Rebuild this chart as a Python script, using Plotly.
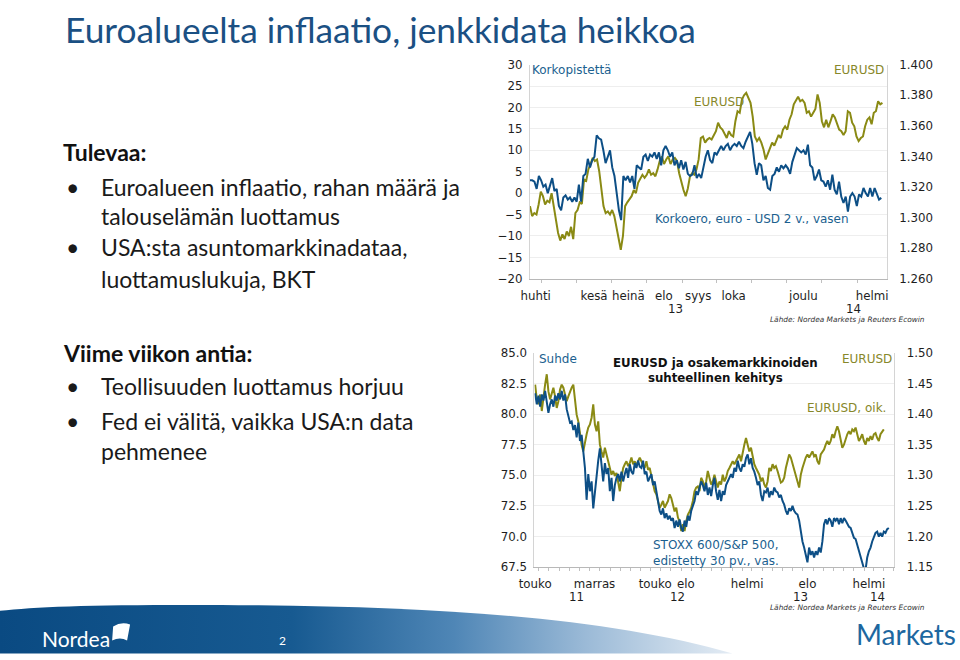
import base64
import pandas as pd
import plotly.graph_objects as go

W, H = 960, 660

# The photographed page maps layout pixels slightly (about 1.5-2 %) onto the picture;
# these helpers place layout items so they land where the reference shows them.
SX, OX = 0.985, 16.6
SY, OY = 0.979, 7.4


def X(x):
    return (x - OX) / SX


def Y(y):
    return (y - OY) / SY


def px(x):
    return X(x) / W


def py(y):
    return 1 - Y(y) / H


# ---------------- DATA ----------------
# Chart 1: 2-year rate spread (euro - USD, bp, left) and EURUSD (right)
c1_spread = [3.0, 3.0, 2.7, 1.0, 4.0, 3.0, 1.5, 2.0, 0.0, 2.0, 3.5, 0.5, 1.0, -3.0, -4.0, -1.0,
             -0.5, -1.5, -1.0, -2.0, -1.0, -2.0, 2.0, -2.0, 4.0, 4.5, 8.0, 6.0, 7.7, 8.5, 13.5,
             12.8, 12.5, 10.0, 7.0, 8.5, 10.0, 6.0, 4.0, 0.0, -4.0, -6.3, 4.0, 3.0, 4.0, 2.5, 4.0,
             1.0, 6.5, 6.0, 5.5, 8.5, 9.0, 7.5, 9.0, 8.5, 9.5, 8.0, 9.5, 6.5, 10.0, 11.0, 10.0,
             8.5, 9.5, 6.5, 7.7, 5.8, 7.7, 5.5, 7.3, 4.5, 4.0, 4.3, 6.5, 3.5, 4.5, 3.5, 5.8, 8.5,
             10.0, 7.7, 7.0, 9.5, 9.0, 10.0, 11.0, 10.0, 11.0, 11.5, 10.0, 11.0, 11.5, 11.0, 12.0,
             11.0, 10.5, 12.0, 13.0, 14.3, 11.5, 7.0, 4.3, 7.0, 6.5, 3.0, 4.0, 1.2, 0.8, 4.0, 4.5,
             6.0, 5.0, 6.5, 5.8, 6.5, 5.8, 4.5, 7.3, 9.0, 10.5, 10.0, 9.5, 10.0, 9.0, 11.3, 6.5,
             6.0, 3.0, 4.0, 5.5, 3.0, 2.7, 1.5, 3.0, 0.8, 4.3, 0.8, -0.3, 2.7, -0.8, -2.3, -0.8,
             -4.3, -0.8, 0.0, -0.8, -3.0, -0.3, -0.8, 1.2, 0.0, -0.8, 1.2, -0.8, 1.2, 0.0, -1.5,
             -1.1]
c1_eurusd = [1.3075, 1.301, 1.303, 1.302, 1.3086, 1.317, 1.314, 1.3086, 1.311, 1.310, 1.316,
             1.3075, 1.299, 1.290, 1.285, 1.289, 1.286, 1.291, 1.288, 1.294, 1.286, 1.303, 1.305,
             1.310, 1.309, 1.325, 1.324, 1.3315, 1.335, 1.339, 1.337, 1.338, 1.3305, 1.318,
             1.3075, 1.303, 1.304, 1.302, 1.305, 1.301, 1.293, 1.286, 1.279, 1.288, 1.3075, 1.310,
             1.312, 1.314, 1.318, 1.316, 1.3228, 1.326, 1.328, 1.326, 1.328, 1.3315, 1.328, 1.329,
             1.327, 1.3315, 1.337, 1.340, 1.335, 1.338, 1.340, 1.335, 1.338, 1.339, 1.337, 1.329,
             1.3228, 1.318, 1.314, 1.319, 1.327, 1.329, 1.328, 1.3315, 1.338, 1.352, 1.353, 1.349,
             1.351, 1.352, 1.351, 1.354, 1.3565, 1.362, 1.359, 1.3575, 1.355, 1.352, 1.3565, 1.354,
             1.353, 1.363, 1.3695, 1.3685, 1.377, 1.380, 1.3815, 1.378, 1.375, 1.366, 1.353, 1.350,
             1.352, 1.349, 1.3445, 1.338, 1.3415, 1.3445, 1.349, 1.347, 1.351, 1.354, 1.352,
             1.3575, 1.3597, 1.3575, 1.364, 1.3675, 1.374, 1.377, 1.379, 1.376, 1.377, 1.375,
             1.3685, 1.3695, 1.366, 1.3685, 1.371, 1.3805, 1.375, 1.363, 1.359, 1.364, 1.359,
             1.363, 1.3675, 1.3655, 1.361, 1.3575, 1.3565, 1.354, 1.3565, 1.3695, 1.3685, 1.362,
             1.3597, 1.353, 1.350, 1.352, 1.353, 1.3597, 1.364, 1.3655, 1.361, 1.3685, 1.3695,
             1.376, 1.374, 1.375]
c1_spread_dates = pd.date_range("2013-04-21", "2014-02-22", periods=len(c1_spread))
c1_eur_dates = pd.date_range("2013-04-21", "2014-02-23", periods=len(c1_eurusd))
c1_tickvals = ["2013-04-26", "2013-06-16", "2013-07-16", "2013-08-16", "2013-09-15",
               "2013-10-16", "2013-12-16", "2014-02-14"]
c1_ticktext = ["huhti", "kesä", "heinä", "elo", "syys", "loka", "joulu", "helmi"]
c1_years = [("2013-08-26", "13"), ("2014-01-29", "14")]

# Chart 2: STOXX 600 / S&P 500 ratio (advanced 30 days, left) and EURUSD (right)
c2_ratio = [81.7, 80.8, 81.5, 80.6, 81.6, 81.1, 81.9, 80.9, 80.1, 80.8, 81.2, 80.6, 81.5, 81.1,
            81.7, 81.2, 81.9, 81.1, 81.6, 80.4, 79.7, 79.3, 79.4, 78.7, 79.1, 78.1, 79.3, 77.8,
            78.3, 77.0, 75.6, 73.0, 75.1, 73.7, 74.5, 72.3, 73.7, 75.1, 76.2, 77.2, 75.6, 74.5,
            76.0, 75.1, 75.6, 73.7, 74.8, 72.9, 74.2, 74.8, 75.1, 74.5, 75.3, 74.5, 75.1, 75.6,
            74.8, 75.9, 75.3, 75.1, 76.0, 75.6, 76.2, 75.7, 75.6, 76.2, 75.1, 75.3, 74.5, 74.8,
            75.1, 74.2, 74.5, 73.7, 72.9, 72.1, 71.8, 72.3, 71.5, 71.9, 71.4, 71.7, 71.3, 71.5,
            70.7, 71.3, 70.8, 71.4, 70.7, 70.4, 71.3, 70.8, 71.7, 71.3, 72.1, 72.6, 72.9, 73.7,
            73.4, 74.0, 74.5, 74.2, 73.7, 74.4, 73.4, 74.0, 73.3, 74.2, 74.8, 73.7, 73.0, 73.8,
            72.9, 73.7, 73.4, 74.2, 74.5, 74.8, 75.1, 74.8, 75.6, 75.3, 76.2, 75.6, 75.3, 75.9,
            75.7, 76.4, 76.7, 75.9, 76.4, 75.6, 75.3, 74.8, 74.2, 74.5, 73.4, 72.9, 73.7, 73.6,
            74.0, 73.2, 73.7, 73.4, 74.0, 73.7, 73.6, 73.2, 73.4, 72.9, 72.6, 72.1, 71.8, 72.3,
            72.1, 72.5, 72.1, 71.9, 71.8, 71.3, 70.4, 69.6, 69.1, 68.5, 67.9, 69.1, 68.5, 68.8,
            68.3, 68.8, 68.5, 69.1, 68.7, 69.6, 71.0, 71.4, 71.0, 71.5, 71.3, 70.8, 71.5, 71.3,
            71.5, 71.0, 71.5, 71.1, 71.5, 71.3, 71.0, 70.8, 70.7, 70.3, 69.9, 69.8, 69.3, 68.8,
            68.3, 67.9, 67.4, 67.3, 68.3, 68.8, 69.1, 69.6, 70.0, 70.3, 70.4, 70.0, 70.3, 70.0,
            70.4, 70.3, 70.6, 70.7]
c2_eurusd = [1.448, 1.424, 1.416, 1.432, 1.405, 1.432, 1.448, 1.465, 1.437, 1.424, 1.432, 1.443,
             1.429, 1.410, 1.421, 1.440, 1.448, 1.443, 1.432, 1.421, 1.429, 1.437, 1.443, 1.448,
             1.421, 1.399, 1.388, 1.367, 1.350, 1.339, 1.356, 1.367, 1.378, 1.383, 1.394, 1.416,
             1.383, 1.372, 1.388, 1.350, 1.339, 1.329, 1.345, 1.334, 1.323, 1.307, 1.301, 1.307,
             1.299, 1.304, 1.290, 1.274, 1.296, 1.312, 1.318, 1.323, 1.315, 1.320, 1.329, 1.318,
             1.323, 1.315, 1.323, 1.329, 1.323, 1.318, 1.312, 1.323, 1.309, 1.312, 1.301, 1.285,
             1.274, 1.269, 1.258, 1.247, 1.252, 1.258, 1.247, 1.252, 1.258, 1.269, 1.263, 1.252,
             1.241, 1.247, 1.231, 1.225, 1.209, 1.220, 1.209, 1.225, 1.236, 1.241, 1.247, 1.258,
             1.274, 1.280, 1.282, 1.274, 1.296, 1.290, 1.280, 1.290, 1.307, 1.296, 1.285, 1.290,
             1.301, 1.290, 1.280, 1.290, 1.285, 1.301, 1.290, 1.296, 1.307, 1.312, 1.318, 1.323,
             1.318, 1.323, 1.329, 1.334, 1.323, 1.339, 1.350, 1.361, 1.350, 1.339, 1.345, 1.329,
             1.318, 1.312, 1.307, 1.301, 1.290, 1.296, 1.285, 1.280, 1.290, 1.312, 1.307, 1.318,
             1.312, 1.315, 1.307, 1.296, 1.288, 1.290, 1.296, 1.312, 1.323, 1.334, 1.329, 1.318,
             1.312, 1.301, 1.290, 1.280, 1.301, 1.312, 1.323, 1.329, 1.334, 1.329, 1.334, 1.339,
             1.331, 1.334, 1.323, 1.318, 1.334, 1.339, 1.342, 1.350, 1.356, 1.350, 1.356, 1.367,
             1.361, 1.372, 1.380, 1.372, 1.356, 1.345, 1.350, 1.361, 1.367, 1.372, 1.367, 1.375,
             1.372, 1.378, 1.367, 1.356, 1.361, 1.367, 1.356, 1.350, 1.361, 1.356, 1.364, 1.358,
             1.367, 1.369, 1.361, 1.356, 1.367, 1.372, 1.375]
c2_ratio_dates = pd.date_range("2011-05-21", "2014-04-16", periods=len(c2_ratio))
c2_eur_dates = pd.date_range("2011-05-21", "2014-04-01", periods=len(c2_eurusd))
c2_tickvals = ["2011-05-21", "2011-11-15", "2012-05-15", "2012-08-15", "2013-02-15",
               "2013-08-15", "2014-02-15"]
c2_ticktext = ["touko", "marras", "touko", "elo", "helmi", "elo", "helmi"]
c2_years = [("2011-09-22", "11"), ("2012-07-22", "12"), ("2013-07-26", "13"), ("2014-03-12", "14")]

# ---------------- STYLE ----------------
BLUE = "#0d4f86"
OLIVE = "#8a8a14"
BLUE_T = "#1b5f8f"
OLIVE_T = "#87872a"
TITLE_C = "#1b5083"
CF = "DejaVu Sans"
SF = "Lato"
TF = dict(family=CF, size=11.8, color="#1e1e1e")

fig = go.Figure()
# EURUSD on base (right) axes, spread/ratio on overlay (left) axes so blue is drawn on top
fig.add_trace(go.Scatter(x=c1_eur_dates, y=c1_eurusd, mode="lines", line=dict(color=OLIVE, width=2),
                         xaxis="x", yaxis="y", hoverinfo="skip", showlegend=False))
fig.add_trace(go.Scatter(x=c1_spread_dates, y=c1_spread, mode="lines", line=dict(color=BLUE, width=2),
                         xaxis="x", yaxis="y2", hoverinfo="skip", showlegend=False))
fig.add_trace(go.Scatter(x=c2_eur_dates, y=c2_eurusd, mode="lines", line=dict(color=OLIVE, width=2),
                         xaxis="x2", yaxis="y3", hoverinfo="skip", showlegend=False))
fig.add_trace(go.Scatter(x=c2_ratio_dates, y=c2_ratio, mode="lines", line=dict(color=BLUE, width=2),
                         xaxis="x2", yaxis="y4", hoverinfo="skip", showlegend=False))


def xax(dom, rng, tv, tt, tick0, anchor):
    return dict(domain=dom, range=rng, type="date", tickmode="array", tickvals=tv, ticktext=tt,
                ticks="", showline=True, linecolor="#b8b8b8", linewidth=1, showgrid=False,
                zeroline=False, tickfont=TF, ticklabelstandoff=6, anchor=anchor,
                minor=dict(ticks="outside", dtick="M1", tick0=tick0, ticklen=3,
                           tickcolor="#c0c0c0", showgrid=False))


def yax(dom, rng, dt, fmt, side, anchor, grid, overlay=None, standoff=4):
    d = dict(range=rng, dtick=dt, tick0=rng[0], tickformat=fmt, side=side, anchor=anchor,
             showgrid=grid, gridcolor="#eeeeee", showline=True, linecolor="#d4d4d4",
             zeroline=False, ticks="", tickfont=TF, ticklabelstandoff=standoff)
    if overlay:
        d["overlaying"] = overlay
    else:
        d["domain"] = dom
    return d


c1x = [px(532), px(890)]
c1y = [py(279.3), py(65)]
c2x = [px(536.5), px(897.5)]
c2y = [py(567.7), py(353.3)]

annotations = []


def text(x, y, s, size, color, family=SF, xanchor="left", bold=False):
    annotations.append(dict(x=px(x), y=py(y), xref="paper", yref="paper", text=s, showarrow=False,
                            xanchor=xanchor, yanchor="middle",
                            align=xanchor if xanchor != "center" else "center", borderpad=0,
                            font=dict(family=family, size=size, color=color,
                                      weight="bold" if bold else "normal")))


# Year labels under the month axes
for d, s in c1_years:
    annotations.append(dict(x=d, y=0, xref="x", yref="y domain", text=s, showarrow=False,
                            yshift=-30, yanchor="middle", font=TF))
for d, s in c2_years:
    annotations.append(dict(x=d, y=0, xref="x2", yref="y3 domain", text=s, showarrow=False,
                            yshift=-30, yanchor="middle", font=TF))

CS = 12
# Chart 1 labels
text(533, 70, "Korkopistettä", CS, BLUE_T, CF)
text(888, 70, "EURUSD", CS, OLIVE_T, CF, xanchor="right")
text(695, 102, "EURUSD", CS, OLIVE_T, CF)
text(656, 219, "Korkoero, euro - USD 2 v., vasen", CS, BLUE_T, CF)
text(929, 320, "<i>Lähde: Nordea Markets ja Reuters Ecowin</i>", 7.4, "#333333", CF, xanchor="right")

# Chart 2 labels
text(540, 359, "Suhde", CS, BLUE_T, CF)
text(896, 359, "EURUSD", CS, OLIVE_T, CF, xanchor="right")
annotations.append(dict(x=px(718), y=py(371), xref="paper", yref="paper",
                        text="EURUSD ja osakemarkkinoiden<br>suhteellinen kehitys", showarrow=False,
                        xanchor="center", yanchor="middle", align="center",
                        font=dict(family=CF, size=11.8, color="#111111", weight="bold")))
text(890, 408, "EURUSD, oik.", CS, OLIVE_T, CF, xanchor="right")
annotations.append(dict(x=px(654), y=py(553.5), xref="paper", yref="paper",
                        text="STOXX 600/S&P 500,<br>edistetty 30 pv., vas.", showarrow=False,
                        xanchor="left", yanchor="middle", align="left", borderpad=0,
                        font=dict(family=CF, size=CS, color=BLUE_T)))
text(929, 608, "<i>Lähde: Nordea Markets ja Reuters Ecowin</i>", 7.4, "#333333", CF, xanchor="right")

# Slide title: box top kept on the page edge so the text is not cut off
annotations.append(dict(x=px(65), y=1, xref="paper", yref="paper",
                        text="Euroalueelta inflaatio, jenkkidata heikkoa", showarrow=False,
                        xanchor="left", yanchor="top", align="left", borderpad=0,
                        font=dict(family=SF, size=35.3, color=TITLE_C)))
body = "#1a1a1a"
BS = 23
text(63, 152, "Tulevaa:", BS, "#111111", SF, bold=True)
text(66, 187, "•", BS, body, SF)
text(101, 187, "Euroalueen inflaatio, rahan määrä ja", BS, body, SF)
text(101, 216, "talouselämän luottamus", BS, body, SF)
text(66, 247, "•", BS, body, SF)
text(101, 247, "USA:sta asuntomarkkinadataa,", BS, body, SF)
text(101, 279, "luottamuslukuja, BKT", BS, body, SF)
text(63, 353, "Viime viikon antia:", BS, "#111111", SF, bold=True)
text(66, 386, "•", BS, body, SF)
text(101, 386, "Teollisuuden luottamus horjuu", BS, body, SF)
text(66, 421, "•", BS, body, SF)
text(101, 421, "Fed ei välitä, vaikka USA:n data", BS, body, SF)
text(101, 451, "pehmenee", BS, body, SF)

# Footer
text(42, 639.5, "Nordea", 21, "#ffffff", SF)
text(279, 641, "2", 12, "#ffffff", SF)
text(858, 634.5, "Markets", 28, "#1d67a0", SF)

svg = ('<svg xmlns="http://www.w3.org/2000/svg" width="960" height="60" viewBox="0 0 960 60" '
       'preserveAspectRatio="none">'
       '<defs><linearGradient id="g" x1="0" y1="0" x2="735" y2="0" gradientUnits="userSpaceOnUse">'
       '<stop offset="0" stop-color="#0a4a82"/><stop offset="0.4" stop-color="#175a91"/>'
       '<stop offset="0.62" stop-color="#4f86b6"/><stop offset="0.8" stop-color="#9bbad7"/>'
       '<stop offset="1" stop-color="#e4ecf4"/></linearGradient></defs>'
       '<path d="M0,12 C40,7 110,5 260,6 C460,8 620,22 735,57 L0,57 Z" fill="url(#g)"/></svg>')
src = "data:image/svg+xml;base64," + base64.b64encode(svg.encode()).decode()

shapes = [
    # Nordea sail mark
    dict(type="path", xref="paper", yref="paper",
         path=(f"M {px(114)},{py(627)} Q {px(122)},{py(622)} {px(131)},{py(625)} "
               f"L {px(128)},{py(641)} Q {px(121)},{py(637)} {px(113)},{py(641)} Z"),
         fillcolor="#ffffff", line=dict(width=0)),
]

fig.update_layout(
    width=W, height=H, autosize=False,
    margin=dict(l=0, r=0, t=0, b=0),
    paper_bgcolor="#ffffff", plot_bgcolor="#ffffff",
    showlegend=False,
    xaxis=xax(c1x, ["2013-04-21", "2014-02-27"], c1_tickvals, c1_ticktext, "2013-05-01", "y"),
    yaxis=yax(c1y, [1.26, 1.40], 0.02, ".3f", "right", "x", False, standoff=9),
    yaxis2=yax(c1y, [-20, 30], 5, "d", "left", "x", True, overlay="y", standoff=4),
    xaxis2=xax(c2x, ["2011-05-19", "2014-05-03"], c2_tickvals, c2_ticktext, "2011-06-01", "y3"),
    yaxis3=yax(c2y, [1.15, 1.50], 0.05, ".2f", "right", "x2", False, standoff=9),
    yaxis4=yax(c2y, [67.5, 85.0], 2.5, ".1f", "left", "x2", True, overlay="y3", standoff=4),
    annotations=annotations,
    shapes=shapes,
    images=[dict(source=src, xref="paper", yref="paper", x=px(0), y=py(600),
                 sizex=px(960) - px(0), sizey=py(600) - py(657),
                 xanchor="left", yanchor="top", sizing="stretch", layer="below")],
)

fig.write_html("out.html")
